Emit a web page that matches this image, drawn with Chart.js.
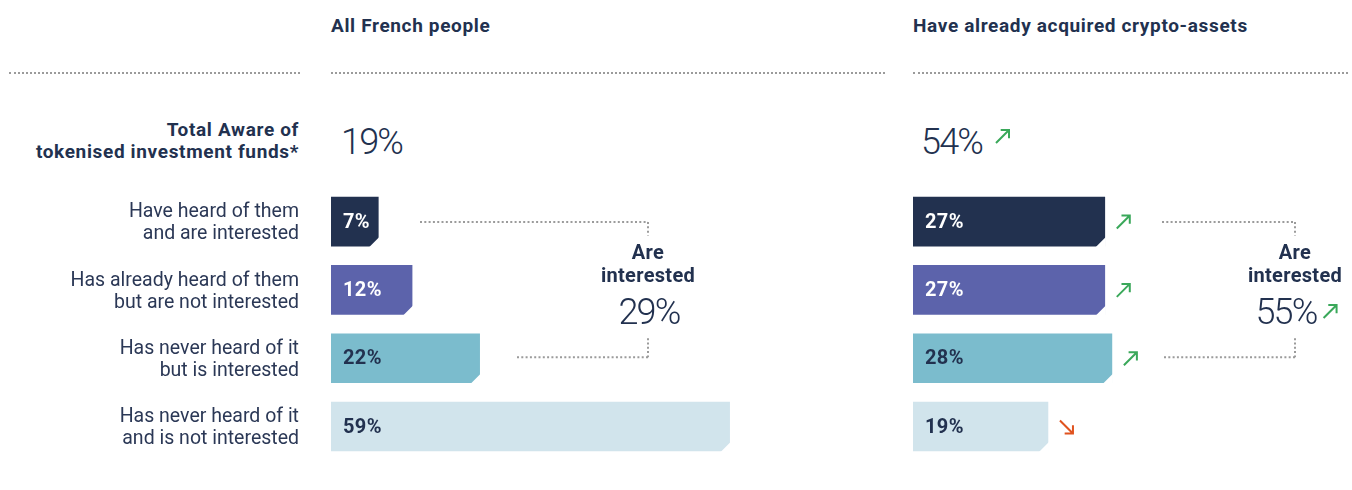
<!DOCTYPE html>
<html><head><meta charset="utf-8">
<script src="https://cdn.jsdelivr.net/npm/chart.js@4.4.1/dist/chart.umd.min.js"></script>
<style>
html,body{margin:0;padding:0;background:#fff;}
#wrap{position:relative;width:1352px;height:490px;overflow:hidden;font-family:Roboto,sans-serif;color:#22314f;}
canvas{position:absolute;left:0;top:0;}
.hdr{position:absolute;top:14px;font-weight:700;font-size:19px;letter-spacing:0.65px;line-height:24px;white-space:nowrap;}
.dots{position:absolute;top:72px;height:0;border-top:2px dotted #9b9b9b;}
.totlab{position:absolute;right:1053px;top:119px;text-align:right;font-weight:700;font-size:19px;letter-spacing:0.65px;line-height:22px;white-space:nowrap;}
.big{position:absolute;top:122px;font-weight:300;font-size:36px;letter-spacing:-1.8px;line-height:40px;white-space:nowrap;}
</style>
</head><body>
<div id="wrap">
  <div class="dots" style="left:9px;width:291px"></div>
  <div class="dots" style="left:331px;width:554px"></div>
  <div class="dots" style="left:913px;width:435px"></div>
  <div class="hdr" id="h0" style="left:331px"></div>
  <div class="hdr" id="h1" style="left:913px"></div>
  <div class="totlab" id="tl"></div>
  <div class="big" id="t0" style="left:341px"></div>
  <div class="big" id="t1" style="left:921px"></div>
  <canvas id="cL" width="1352" height="490"></canvas>
  <canvas id="cR" width="1352" height="490"></canvas>
</div>
<script>
// ---- data ----
const categories = [
  ["Have heard of them", "and are interested"],
  ["Has already heard of them", "but are not interested"],
  ["Has never heard of it", "but is interested"],
  ["Has never heard of it", "and is not interested"]
];
const panelTitles = ["All French people", "Have already acquired crypto-assets"];
const totalLabel = ["Total Aware of", "tokenised investment funds*"];
const interestedLabel = ["Are", "interested"];
const allFrench = [7, 12, 22, 59];
const cryptoOwners = [27, 27, 28, 19];
const cryptoTrend = ["up", "up", "up", "down"];
const totalAware = [19, 54];
const totalAwareTrend = [null, "up"];
const interestedTotal = [29, 55];
const interestedTrend = [null, "up"];

// ---- styles ----
const barColors = ["#22314f", "#5c63ab", "#7bbccd", "#d1e4ec"];
const valueColors = ["#ffffff", "#ffffff", "#22314f", "#22314f"];
const navy = "#22314f";
const green = "#3aa85a";
const orange = "#e0531f";
const dotGrey = "#9b9b9b";

document.getElementById('h0').textContent = panelTitles[0];
document.getElementById('h1').textContent = panelTitles[1];
document.getElementById('tl').innerHTML = totalLabel.join('<br>');
document.getElementById('t0').textContent = totalAware[0] + '%';
document.getElementById('t1').textContent = totalAware[1] + '%';

function drawArrow(ctx, x, y, s, dir) {
  ctx.save();
  ctx.strokeStyle = dir === 'up' ? green : orange;
  ctx.lineWidth = 2;
  ctx.lineCap = 'butt';
  ctx.lineJoin = 'miter';
  ctx.beginPath();
  if (dir === 'up') {
    ctx.moveTo(x + 1, y + s - 1); ctx.lineTo(x + s - 1.5, y + 1.5);
    ctx.moveTo(x + s * 0.38, y + 1); ctx.lineTo(x + s - 1, y + 1); ctx.lineTo(x + s - 1, y + s * 0.62);
  } else {
    ctx.moveTo(x + 1, y + 1); ctx.lineTo(x + s - 1.5, y + s - 1.5);
    ctx.moveTo(x + s * 0.38, y + s - 1); ctx.lineTo(x + s - 1, y + s - 1); ctx.lineTo(x + s - 1, y + s * 0.38);
  }
  ctx.stroke();
  ctx.restore();
}

const barDeco = {
  id: 'barDeco',
  afterDatasetsDraw(chart, args, opts) {
    const ctx = chart.ctx;
    const meta = chart.getDatasetMeta(0);
    const ds = chart.data.datasets[0];
    ctx.save();
    meta.data.forEach((el, i) => {
      const p = el.getProps(['x', 'y', 'base', 'height'], true);
      const bottom = p.y + p.height / 2;
      // cut corner
      ctx.fillStyle = '#ffffff';
      ctx.beginPath();
      ctx.moveTo(p.x - 9, bottom + 1);
      ctx.lineTo(p.x + 1, bottom + 1);
      ctx.lineTo(p.x + 1, bottom - 9);
      ctx.closePath();
      ctx.fill();
      // value label
      ctx.fillStyle = valueColors[i];
      ctx.font = '700 20px Roboto';
      ctx.letterSpacing = '0.4px';
      ctx.textAlign = 'left';
      ctx.textBaseline = 'middle';
      ctx.fillText(ds.data[i] + '%', p.base + 12, p.y + 1);
      ctx.letterSpacing = '0px';
      // trend arrow
      if (opts.trend && opts.trend[i]) drawArrow(ctx, p.x + 11, p.y - 7, 15, opts.trend[i]);
    });
    // bracket
    const b = opts.bracket;
    const y1 = meta.data[0].y, y3 = meta.data[2].y;
    ctx.strokeStyle = dotGrey;
    ctx.lineWidth = 2;
    ctx.setLineDash([2, 2.3]);
    ctx.beginPath();
    ctx.moveTo(b.topStart, y1 + 0.5); ctx.lineTo(b.x, y1 + 0.5);
    ctx.moveTo(b.x, y1 + 0.5); ctx.lineTo(b.x, y1 + 14);
    ctx.moveTo(b.x, y3 - 20); ctx.lineTo(b.x, y3 - 1);
    ctx.moveTo(b.x, y3 - 1); ctx.lineTo(b.bottomStart, y3 - 1);
    ctx.stroke();
    ctx.setLineDash([]);
    ctx.fillStyle = navy;
    ctx.textAlign = 'center';
    ctx.textBaseline = 'middle';
    ctx.font = '700 20px Roboto';
    ctx.letterSpacing = '0.3px';
    ctx.fillText(interestedLabel[0], b.x, 254);
    ctx.fillText(interestedLabel[1], b.x, 277);
    ctx.font = '300 36px Roboto';
    ctx.letterSpacing = '-1.8px';
    const t = interestedTotal[b.idx] + '%';
    ctx.fillText(t, b.x + b.numShift, 315);
    const w = ctx.measureText(t).width;
    ctx.letterSpacing = '0px';
    if (interestedTrend[b.idx]) {
      drawArrow(ctx, b.x + b.numShift + w / 2 + 6, 304, 15, interestedTrend[b.idx]);
    }
    if (opts.totalArrow && totalAwareTrend[b.idx]) {
      drawArrow(ctx, opts.totalArrow.x, opts.totalArrow.y, 15, totalAwareTrend[b.idx]);
    }
    ctx.restore();
  }
};

const chartTop = 187.4, chartBottom = 460.7;

new Chart(document.getElementById('cL'), {
  type: 'bar',
  data: { labels: categories, datasets: [{ data: allFrench, backgroundColor: barColors, barThickness: 49, borderWidth: 0 }] },
  options: {
    indexAxis: 'y', responsive: false, animation: false, events: [],
    layout: { padding: { top: chartTop, bottom: 490 - chartBottom, left: 0, right: 1352 - 885 } },
    scales: {
      x: { display: false, min: 0, max: 82 },
      y: {
        grid: { display: false, drawTicks: false }, border: { display: false },
        ticks: { color: '#2b3856', padding: 32, autoSkip: false, labelOffset: 2, font: { family: 'Roboto', size: 19.5, lineHeight: 1.13 } },
        afterFit: (s) => { s.width = 331; s.paddingTop = 0; s.paddingBottom = 0; }
      }
    },
    plugins: {
      legend: { display: false }, tooltip: { enabled: false },
      barDeco: { bracket: { idx: 0, x: 648, topStart: 420, bottomStart: 516, numShift: 1 } }
    }
  },
  plugins: [barDeco]
});

new Chart(document.getElementById('cR'), {
  type: 'bar',
  data: { labels: categories, datasets: [{ data: cryptoOwners, backgroundColor: barColors, barThickness: 49, borderWidth: 0 }] },
  options: {
    indexAxis: 'y', responsive: false, animation: false, events: [],
    layout: { padding: { top: chartTop, bottom: 490 - chartBottom, left: 913, right: 5 } },
    scales: {
      x: { display: false, min: 0, max: 61.1 },
      y: { display: false }
    },
    plugins: {
      legend: { display: false }, tooltip: { enabled: false },
      barDeco: { trend: cryptoTrend, bracket: { idx: 1, x: 1295, topStart: 1162, bottomStart: 1162, numShift: -9 },
                 totalArrow: { x: 995, y: 129 } }
    }
  },
  plugins: [barDeco]
});
</script>
</body></html>
